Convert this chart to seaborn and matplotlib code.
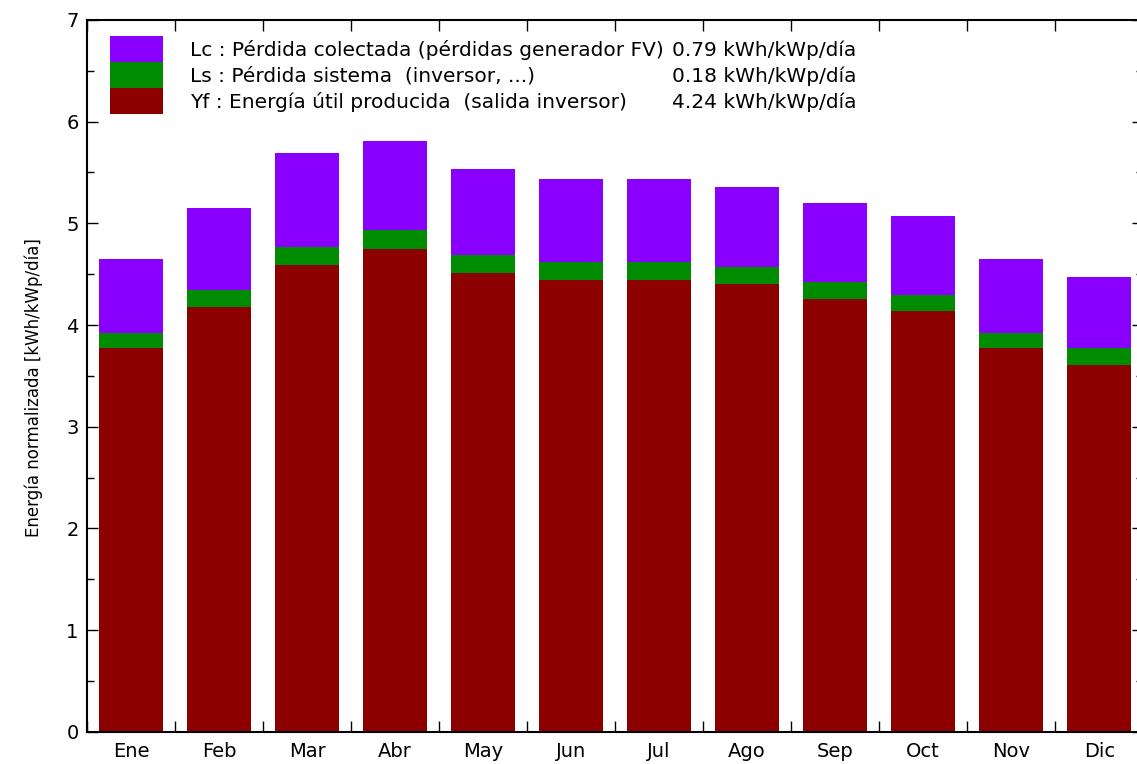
import numpy as np
import pandas as pd
import seaborn as sns
import matplotlib.pyplot as plt
from matplotlib.patches import Patch

# datos (kWh/kWp/dia)
meses = ['Ene', 'Feb', 'Mar', 'Abr', 'May', 'Jun', 'Jul', 'Ago', 'Sep', 'Oct', 'Nov', 'Dic']
yf = [3.77, 4.18, 4.59, 4.75, 4.51, 4.44, 4.44, 4.40, 4.26, 4.14, 3.77, 3.61]
ls = [0.15, 0.16, 0.18, 0.18, 0.18, 0.18, 0.18, 0.17, 0.16, 0.16, 0.15, 0.16]
lc = [0.73, 0.81, 0.92, 0.88, 0.84, 0.82, 0.82, 0.79, 0.78, 0.77, 0.73, 0.70]

etiquetas = ['Lc : Pérdida colectada (pérdidas generador FV)',
             'Ls : Pérdida sistema  (inversor, ...)',
             'Yf : Energía útil producida  (salida inversor)']
valores = ['0.79 kWh/kWp/día', '0.18 kWh/kWp/día', '4.24 kWh/kWp/día']

c_lc = '#8a00ff'
c_ls = '#008c00'
c_yf = '#8c0000'

df = pd.DataFrame({'mes': meses, 'yf': yf, 'ls': ls, 'lc': lc})
df['yf_ls'] = df['yf'] + df['ls']
df['total'] = df['yf_ls'] + df['lc']

sns.set_style('white')
plt.rcParams['font.family'] = ['DejaVu Sans']
plt.rcParams['text.color'] = 'black'
plt.rcParams['axes.labelcolor'] = 'black'
plt.rcParams['xtick.color'] = 'black'
plt.rcParams['ytick.color'] = 'black'

fig = plt.figure(figsize=(11.37, 7.64), dpi=100)
ax = fig.add_axes([0.0765, 0.042, 0.929, 0.932])

# barras apiladas: total, luego yf+ls, luego yf
sns.barplot(data=df, x='mes', y='total', color=c_lc, saturation=1, width=0.73, linewidth=0, ax=ax)
sns.barplot(data=df, x='mes', y='yf_ls', color=c_ls, saturation=1, width=0.73, linewidth=0, ax=ax)
sns.barplot(data=df, x='mes', y='yf', color=c_yf, saturation=1, width=0.73, linewidth=0, ax=ax)

ax.set_xlim(-0.5, 11.5)
ax.set_ylim(0, 7)
ax.set_xlabel('')
ax.set_ylabel('Energía normalizada [kWh/kWp/día]', fontsize=12)
ax.yaxis.set_label_coords(-0.042, 0.483)

pos = np.arange(len(meses))
ax.set_xticks(np.arange(-0.5, 12, 1))
ax.set_xticklabels([])
ax.set_xticks(pos, minor=True)
ax.set_xticklabels(meses, minor=True, fontsize=14)
ax.tick_params(axis='x', which='major', direction='in', length=8, width=1, top=True, bottom=True)
ax.tick_params(axis='x', which='minor', length=0, pad=7)

ax.set_yticks(np.arange(0, 8, 1))
ax.set_yticks(np.arange(0, 7.01, 0.5), minor=True)
ax.tick_params(axis='y', which='major', direction='in', length=8, width=1, left=True, right=True, labelsize=14, pad=6)
ax.tick_params(axis='y', which='minor', direction='in', length=5, width=1, left=True, right=True)

for s in ax.spines.values():
    s.set_linewidth(1.5)
    s.set_color('black')

handles = [Patch(facecolor=c, edgecolor='none') for c in [c_lc, c_ls, c_yf]]
ax.legend(handles, etiquetas, loc='upper left', bbox_to_anchor=(0.022, 0.977),
          frameon=False, fontsize=14.5, handlelength=2.63, handleheight=1.61,
          labelspacing=0, handletextpad=1.35, borderpad=0, borderaxespad=0)

for i, v in enumerate(valores):
    ax.text(0.554, 0.958 - i * 0.0367, v, transform=ax.transAxes, fontsize=14.5, va='center', ha='left')

fig.savefig('out.png', dpi=100)
